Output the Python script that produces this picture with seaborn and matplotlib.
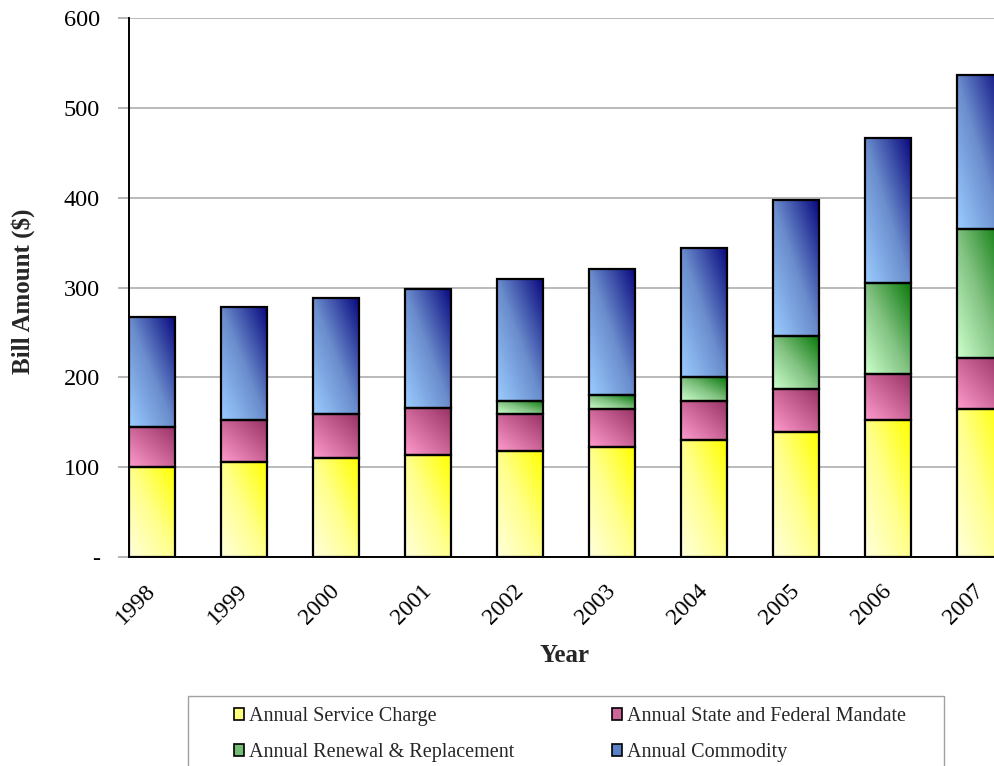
import numpy as np
import pandas as pd
import matplotlib
matplotlib.use("Agg")
import matplotlib.pyplot as plt
import seaborn as sns
from matplotlib.colors import LinearSegmentedColormap
from matplotlib.patches import Rectangle

# ---- data -------------------------------------------------------------
years = ["1998", "1999", "2000", "2001", "2002", "2003", "2004", "2005", "2006", "2007"]
service_charge = [100, 106, 110.5, 114, 118, 122, 130, 139.5, 152, 165]
state_federal_mandate = [45, 46.5, 48.5, 51.5, 41, 42.5, 44, 48, 52, 56.5]
renewal_replacement = [0, 0, 0, 0, 15, 15.5, 26, 58.5, 101.5, 143.5]
commodity = [122, 125.5, 129, 132.5, 136, 141, 144, 151, 161, 171]

series_labels = [
    "Annual Service Charge",
    "Annual State and Federal Mandate",
    "Annual Renewal & Replacement",
    "Annual Commodity",
]
y_tick_values = [0, 100, 200, 300, 400, 500, 600]
y_tick_labels = ["-", "100", "200", "300", "400", "500", "600"]

# ---- styling ----------------------------------------------------------
sns.set_theme(style="white")
plt.rcParams["font.family"] = ["Liberation Serif", "DejaVu Serif"]

# light (bottom-left) -> dark (top-right) gradient stops per series
gradient_stops = [
    ["#FFFFDC", "#FFFF8C", "#FFFF00"],
    ["#FF9ACC", "#CC6699", "#993366"],
    ["#CCFFCC", "#7FC07F", "#0A7A0A"],
    ["#9ACCFF", "#6A8CCC", "#0A0A80"],
]
swatch_colors = ["#FFFF80", "#CC6699", "#74BC74", "#5A80C8"]

W, H = 995, 766
fig = plt.figure(figsize=(W / 100, H / 100), dpi=100)
ax = fig.add_axes([129 / W, 209 / H, 874 / W, 539 / H])

df = pd.DataFrame({
    "Year": years,
    series_labels[0]: service_charge,
    series_labels[1]: state_federal_mandate,
    series_labels[2]: renewal_replacement,
    series_labels[3]: commodity,
})

n = 64
u = np.linspace(0, 1, n)
diag = (u[None, :] + u[:, None]) / 2.0


def fill_gradient(patch, cmap):
    x0, y0 = patch.get_x(), patch.get_y()
    w, h = patch.get_width(), patch.get_height()
    im = ax.imshow(diag, cmap=cmap, origin="lower", vmin=0, vmax=1,
                   extent=(x0, x0 + w, y0, y0 + h), aspect="auto",
                   interpolation="bilinear", zorder=2)
    im.set_clip_path(patch)


bottom = np.zeros(len(years))
for label, stops in zip(series_labels, gradient_stops):
    values = df[label].to_numpy(dtype=float)
    sns.barplot(data=df, x="Year", y=label, bottom=bottom.copy(), width=0.5,
                color="white", saturation=1, errorbar=None,
                edgecolor="black", linewidth=1.6, zorder=3, ax=ax)
    cmap = LinearSegmentedColormap.from_list(label, stops)
    for patch, v in zip(ax.containers[-1], values):
        patch.set_facecolor("none")
        if v <= 0:
            patch.set_visible(False)
            continue
        fill_gradient(patch, cmap)
    bottom += values

# ---- axes -------------------------------------------------------------
ax.set_xlim(-0.25, len(years) - 0.75)
ax.set_ylim(0, 600)
ax.set_yticks(y_tick_values, y_tick_labels)
ax.yaxis.grid(True, color="#b4b4b4", linewidth=1.3)
ax.set_axisbelow(True)

centers = np.arange(len(years))
ax.set_xticks(centers, years)
for tl in ax.get_xticklabels():
    tl.set_rotation(45)
    tl.set_rotation_mode("anchor")
    tl.set_ha("right")
    tl.set_va("center")
edges = np.concatenate([centers - 0.25, centers + 0.25])
ax.set_xticks(edges, minor=True)
ax.tick_params(axis="x", which="major", length=0, pad=22, labelsize=17, colors="black")
ax.tick_params(axis="x", which="minor", length=8, width=1.2, color="#a8a8a8", direction="out")
ax.tick_params(axis="y", length=8, width=1.2, color="#a8a8a8", direction="out",
               pad=13, labelsize=17.5, labelcolor="black", left=True)

for side in ("top", "right"):
    ax.spines[side].set_visible(False)
for side in ("left", "bottom"):
    ax.spines[side].set_color("black")
    ax.spines[side].set_linewidth(1.4)

ax.set_ylabel("Bill Amount ($)", fontsize=18, fontweight="bold")
ax.set_xlabel("Year", fontsize=18, fontweight="bold")
ax.yaxis.set_label_coords(-0.107, (557 - 291) / 539)
ax.xaxis.set_label_coords((565 - 129) / 874, -(644 - 557) / 539)

# ---- legend -----------------------------------------------------------
handles = [Rectangle((0, 0), 1, 1, facecolor=c, edgecolor="black", linewidth=1.2)
           for c in swatch_colors]
legend_kw = dict(loc="upper left", frameon=False, fontsize=14.5, borderpad=0,
                 borderaxespad=0, handlelength=0.5, handleheight=0.5,
                 handletextpad=0.25, labelspacing=0.85)
fig.legend([handles[0], handles[2]], [series_labels[0], series_labels[2]],
           bbox_to_anchor=(234 / W, 1 - 707 / H), **legend_kw)
fig.legend([handles[1], handles[3]], [series_labels[1], series_labels[3]],
           bbox_to_anchor=(612 / W, 1 - 707 / H), **legend_kw)
fig.patches.append(Rectangle((188 / W, -0.05), (944 - 188) / W, (766 - 696) / H + 0.05,
                             transform=fig.transFigure, fill=False,
                             edgecolor="#a0a0a0", linewidth=1.0))

fig.savefig("out.png", dpi=100)
